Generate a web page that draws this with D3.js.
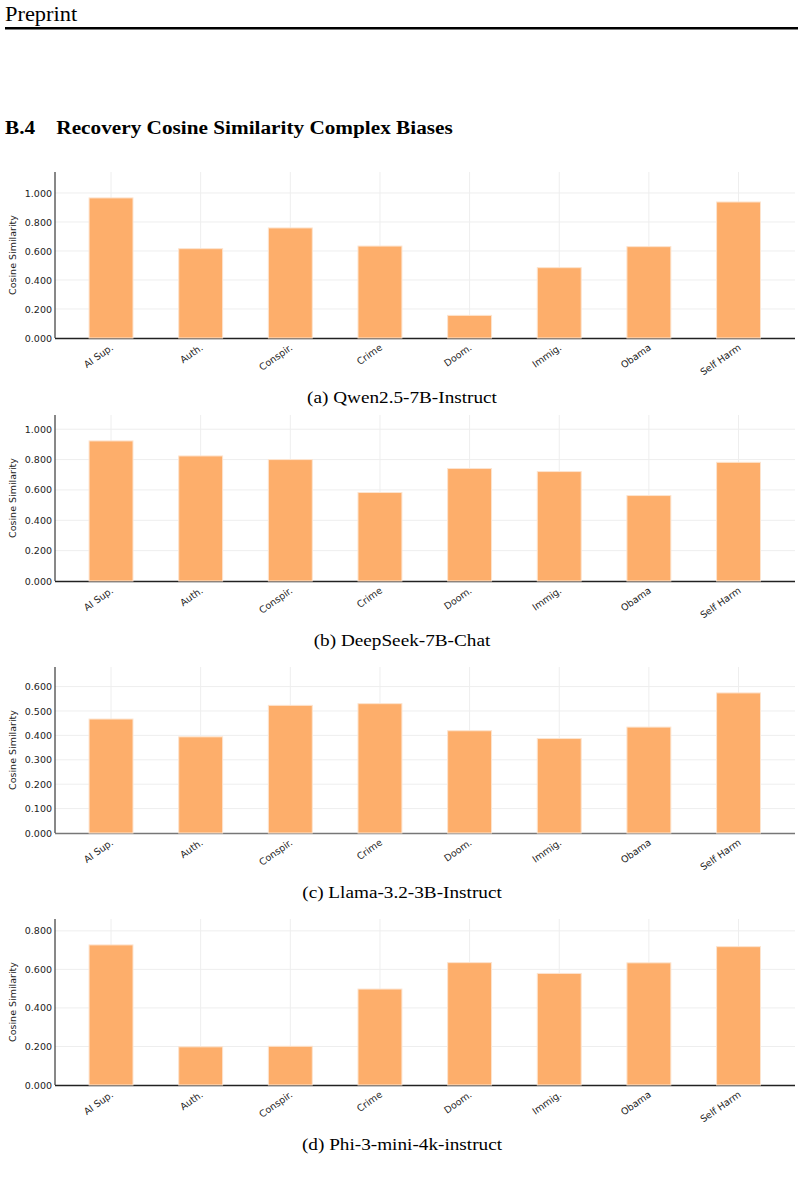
<!DOCTYPE html>
<html>
<head>
<meta charset="utf-8">
<script src="https://cdn.jsdelivr.net/npm/d3@7"></script>
<style>
  body { margin: 0; background: #fff; }
  svg { display: block; }
</style>
</head>
<body>
<div id="page"></div>
<script>
const PAGE_W = 804;
const PAGE_H = 1187;

// data
const categories = ['AI Sup.', 'Auth.', 'Conspir.', 'Crime', 'Doom.', 'Immig.', 'Obama', 'Self Harm'];
const qwen = [0.966, 0.616, 0.759, 0.634, 0.156, 0.485, 0.630, 0.938];
const deepseek = [0.923, 0.824, 0.800, 0.583, 0.741, 0.721, 0.563, 0.782];
const llama = [0.467, 0.394, 0.523, 0.530, 0.419, 0.387, 0.434, 0.574];
const phi = [0.727, 0.198, 0.201, 0.498, 0.635, 0.579, 0.634, 0.718];
const captions = ['(a) Qwen2.5-7B-Instruct', '(b) DeepSeek-7B-Chat', '(c) Llama-3.2-3B-Instruct', '(d) Phi-3-mini-4k-instruct'];
const ticksA = [0, 0.2, 0.4, 0.6, 0.8, 1.0];
const ticksB = [0, 0.2, 0.4, 0.6, 0.8, 1.0];
const ticksC = [0, 0.1, 0.2, 0.3, 0.4, 0.5, 0.6];
const ticksD = [0, 0.2, 0.4, 0.6, 0.8];

const panels = [
  {values: qwen, ticks: ticksA, top: 172},
  {values: deepseek, ticks: ticksB, top: 415},
  {values: llama, ticks: ticksC, top: 667},
  {values: phi, ticks: ticksD, top: 919}
];

const PLOT = {left: 55, right: 795, height: 166};
const BAR_COLOR = '#fdae6b';
const SERIF = '"Liberation Serif", "DejaVu Serif", serif';
const SANS = '"DejaVu Sans", sans-serif';

const svg = d3.select('#page')
  .append('svg')
    .attr('width', PAGE_W)
    .attr('height', PAGE_H);

// stretch Times-like text to the wider Palatino widths of the original
function widen(sel, ratio) {
  sel.each(function() {
    const w = this.getComputedTextLength();
    d3.select(this)
      .attr('textLength', w * ratio)
      .attr('lengthAdjust', 'spacingAndGlyphs');
  });
}

// page header
svg.append('text')
  .attr('x', 5).attr('y', 21)
  .attr('font-family', SERIF)
  .attr('font-size', 20)
  .text('Preprint')
  .call(widen, 1.12);

svg.append('rect')
  .attr('x', 5).attr('y', 27)
  .attr('width', 793).attr('height', 2.5)
  .attr('fill', '#000');

svg.append('text')
  .attr('x', 5).attr('y', 134)
  .attr('font-family', SERIF)
  .attr('font-size', 18)
  .attr('font-weight', 'bold')
  .text('B.4\u2003Recovery Cosine Similarity Complex Biases')
  .call(widen, 1.18);

// x scale shared by all panels: category index -> pixel
const X_SCALE = d3.scaleLinear()
  .domain([-0.625, categories.length - 1 + 0.63])
  .range([PLOT.left, PLOT.right]);
const BAR_W = (X_SCALE(1) - X_SCALE(0)) * 0.49;

panels.forEach((p, i) => {
  const bottom = p.top + PLOT.height;
  const Y_SCALE = d3.scaleLinear()
    .domain([0, d3.max(p.values) * 1.185])
    .range([bottom, p.top]);

  const g = svg.append('g');

  // grid
  g.selectAll('.hgrid')
    .data(p.ticks.slice(1))
    .enter()
    .append('line')
      .attr('x1', PLOT.left).attr('x2', PLOT.right)
      .attr('y1', d => Y_SCALE(d)).attr('y2', d => Y_SCALE(d))
      .attr('stroke', '#eeeeee').attr('stroke-width', 1);

  g.selectAll('.vgrid')
    .data(categories)
    .enter()
    .append('line')
      .attr('x1', (d, j) => X_SCALE(j)).attr('x2', (d, j) => X_SCALE(j))
      .attr('y1', p.top).attr('y2', bottom)
      .attr('stroke', '#eeeeee').attr('stroke-width', 1);

  // x axis baseline (under the bars, their light border covers it)
  g.append('line')
    .attr('x1', PLOT.left).attr('x2', PLOT.right)
    .attr('y1', bottom + 0.5).attr('y2', bottom + 0.5)
    .attr('stroke', i === 2 ? '#777' : '#222').attr('stroke-width', 1.5);

  // bars
  g.selectAll('.bar')
    .data(p.values)
    .enter()
    .append('rect')
      .attr('x', (d, j) => X_SCALE(j) - BAR_W / 2)
      .attr('y', d => Y_SCALE(d))
      .attr('width', BAR_W)
      .attr('height', d => bottom - Y_SCALE(d))
      .attr('fill', BAR_COLOR)
      .attr('stroke', '#fde4cf')
      .attr('stroke-width', 1);

  // y axis
  const yAxis = g.append('g')
    .attr('transform', 'translate(' + PLOT.left + ',0)')
    .call(d3.axisLeft(Y_SCALE)
      .tickValues(p.ticks)
      .tickFormat(d3.format('.3f'))
      .tickSize(0)
      .tickPadding(3));
  yAxis.select('.domain').remove();
  yAxis.selectAll('text')
    .attr('font-family', SANS)
    .attr('font-size', 9.5)
    .attr('fill', '#222');

  g.append('line')
    .attr('x1', PLOT.left).attr('x2', PLOT.left)
    .attr('y1', p.top).attr('y2', bottom)
    .attr('stroke', '#111').attr('stroke-width', 1);

  // x tick labels
  g.selectAll('.xlab')
    .data(categories)
    .enter()
    .append('text')
      .attr('transform', (d, j) => 'translate(' + (X_SCALE(j) + 3) + ',' + (bottom + 11) + ') rotate(-35)')
      .attr('text-anchor', 'end')
      .attr('font-family', SANS)
      .attr('font-size', 9.5)
      .attr('fill', '#222')
      .text(d => d);

  // y title
  g.append('text')
    .attr('transform', 'translate(16,' + (p.top + PLOT.height / 2) + ') rotate(-90)')
    .attr('text-anchor', 'middle')
    .attr('font-family', SANS)
    .attr('font-size', 9.5)
    .attr('fill', '#222')
    .text('Cosine Similarity');

  // caption
  svg.append('text')
    .attr('x', 402)
    .attr('y', bottom + 65)
    .attr('text-anchor', 'middle')
    .attr('font-family', SERIF)
    .attr('font-size', 17)
    .text(captions[i])
    .call(widen, 1.13);
});
</script>
</body>
</html>
